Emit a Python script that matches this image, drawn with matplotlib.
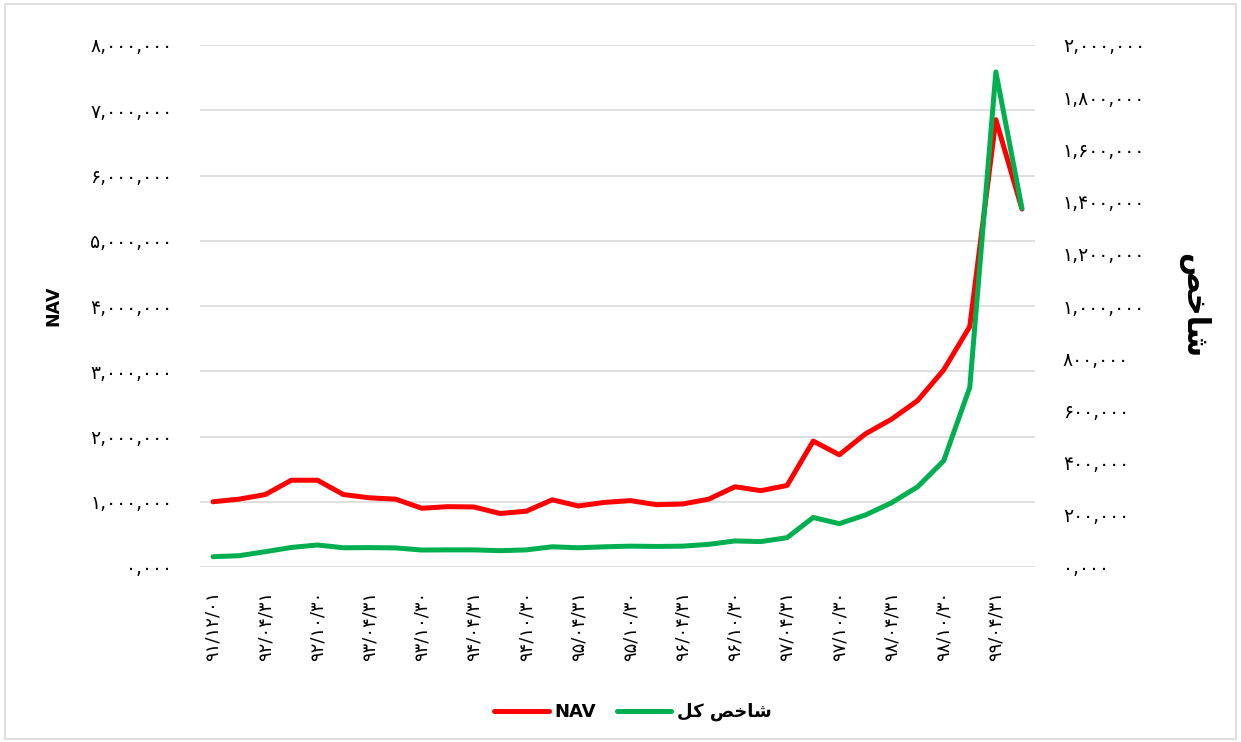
import numpy as np
import matplotlib
matplotlib.use('Agg')
import matplotlib.pyplot as plt
from matplotlib.patches import Rectangle

plt.rcParams['font.family'] = ['DejaVu Sans', 'Noto Sans']

## Data
# NAV (left axis) and total index (right axis), quarterly
nav = [1.00e6, 1.04e6, 1.11e6, 1.33e6, 1.33e6, 1.11e6, 1.06e6, 1.04e6,
       0.90e6, 0.925e6, 0.92e6, 0.82e6, 0.855e6, 1.03e6, 0.935e6, 0.99e6,
       1.017e6, 0.955e6, 0.966e6, 1.04e6, 1.23e6, 1.17e6, 1.25e6, 1.93e6,
       1.72e6, 2.04e6, 2.265e6, 2.55e6, 3.02e6, 3.685e6, 6.856e6, 5.486e6]
index_total = [39.5e3, 43.3e3, 58.7e3, 74.9e3, 84.3e3, 73.7e3, 74.3e3, 73.1e3,
               65e3, 65.6e3, 65.6e3, 62.5e3, 65.6e3, 77.4e3, 73.7e3, 77.4e3,
               79.9e3, 78.7e3, 79.9e3, 86.8e3, 99.9e3, 97.4e3, 112.4e3, 189.8e3,
               166.1e3, 199.2e3, 246e3, 307e3, 407e3, 688e3, 1897e3, 1374e3]

# visible date labels (every second point)
date_labels = ['۹۱/۱۲/۰۱', '۹۲/۰۴/۳۱', '۹۲/۱۰/۳۰', '۹۳/۰۴/۳۱',
               '۹۳/۱۰/۳۰', '۹۴/۰۴/۳۱', '۹۴/۱۰/۳۰', '۹۵/۰۴/۳۱',
               '۹۵/۱۰/۳۰', '۹۶/۰۴/۳۱', '۹۶/۱۰/۳۰', '۹۷/۰۴/۳۱',
               '۹۷/۱۰/۳۰', '۹۸/۰۴/۳۱', '۹۸/۱۰/۳۰', '۹۹/۰۴/۳۱']

left_ticks = np.arange(0, 8000001, 1000000)
right_ticks = np.arange(0, 2000001, 200000)

# Persian text in visual order with presentation forms
label_index = '\ufeba\ufea7\ufe8e\ufeb7'          # شاخص
label_index_total = '\ufede\ufedb ' + label_index  # شاخص کل

FA = str.maketrans('0123456789', '۰۱۲۳۴۵۶۷۸۹')


def fa_num(v):
    if v == 0:
        return '۰,۰۰۰'
    return '{:,}'.format(int(v)).translate(FA)


red = '#FF0000'
green = '#00B050'
grid_c = '#D9D9D9'

### Plot figure
fig = plt.figure(figsize=(12.41, 7.42), dpi=100)
ax = fig.add_axes([200 / 1241, 1 - 567 / 742, 835 / 1241, 522 / 742])
ax2 = ax.twinx()

x = np.arange(len(nav))
l1, = ax.plot(x, nav, color=red, lw=3.6, solid_capstyle='round', label='NAV', zorder=3)
l2, = ax2.plot(x, index_total, color=green, lw=3.6, solid_capstyle='round',
               label=label_index_total, zorder=3)

ax.set_xlim(-0.5, len(nav) - 0.5)
ax.set_ylim(0, 8000000)
ax2.set_ylim(0, 2000000)

ax.set_yticks(left_ticks)
ax.set_yticklabels([fa_num(v) for v in left_ticks], fontsize=13.5)
ax2.set_yticks(right_ticks)
ax2.set_yticklabels([fa_num(v) for v in right_ticks], fontsize=13.5)

ax.set_xticks(x[::2])
ax.set_xticklabels(date_labels, rotation=90, fontsize=13)

for a in (ax, ax2):
    for s in a.spines.values():
        s.set_visible(False)
    a.tick_params(length=0)
ax.tick_params(axis='y', pad=20)
ax2.tick_params(axis='y', pad=20)
ax.tick_params(axis='x', pad=17)

ax.yaxis.grid(True, color=grid_c, lw=1.2)
ax.set_axisbelow(True)

ax.set_ylabel('NAV', fontsize=12.5, fontweight='bold', labelpad=20)
ax2.set_ylabel(label_index, fontsize=22, fontweight='bold', rotation=270,
               labelpad=46)

fig.legend(handles=[l1, l2], loc='center', bbox_to_anchor=(0.51, 0.04),
           ncol=2, frameon=False, handlelength=3.0,
           handletextpad=0.3, columnspacing=1.2,
           prop={'weight': 'bold', 'size': 13})

# chart area border
fig.patches.append(Rectangle((5 / 1241, 3 / 742), 1231 / 1241, 735 / 742,
                             transform=fig.transFigure, fill=False,
                             edgecolor=grid_c, lw=1.2))

fig.savefig('out.png', dpi=100, facecolor='white')
